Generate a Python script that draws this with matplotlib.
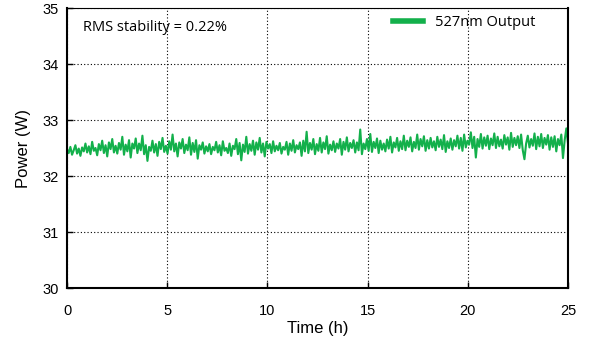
import numpy as np
import matplotlib
matplotlib.use("Agg")
import matplotlib.pyplot as plt

power = [
    32.48, 32.41, 32.52, 32.38, 32.46, 32.55, 32.40, 32.49, 32.36, 32.51,
    32.44, 32.58, 32.42, 32.53, 32.39, 32.61, 32.45, 32.50, 32.37, 32.57,
    32.46, 32.63, 32.41, 32.55, 32.35, 32.60, 32.48, 32.66, 32.42, 32.54,
    32.40, 32.59, 32.47, 32.70, 32.38, 32.56, 32.44, 32.64, 32.33, 32.58,
    32.49, 32.67, 32.41, 32.58, 32.46, 32.72, 32.39, 32.55, 32.27, 32.52,
    32.45, 32.63, 32.42, 32.57, 32.36, 32.61, 32.48, 32.68, 32.43, 32.54,
    32.40, 32.62, 32.47, 32.74, 32.44, 32.58, 32.35, 32.60, 32.49, 32.66,
    32.41, 32.56, 32.46, 32.69, 32.38, 32.59, 32.43, 32.64, 32.31, 32.55,
    32.47, 32.60, 32.40, 32.53, 32.44, 32.57, 32.39, 32.52, 32.46, 32.61,
    32.42, 32.55, 32.37, 32.62, 32.45, 32.50, 32.41, 32.58, 32.36, 32.54,
    32.48, 32.66, 32.39, 32.59, 32.28, 32.56, 32.43, 32.70, 32.40, 32.57,
    32.45, 32.63, 32.38, 32.60, 32.47, 32.68, 32.42, 32.58, 32.35, 32.61,
    32.49, 32.57, 32.41, 32.62, 32.44, 32.54, 32.46, 32.59, 32.40, 32.52,
    32.47, 32.61, 32.38, 32.58, 32.45, 32.64, 32.42, 32.55, 32.48, 32.60,
    32.36, 32.63, 32.44, 32.79, 32.41, 32.59, 32.47, 32.66, 32.39, 32.57,
    32.45, 32.68, 32.42, 32.60, 32.48, 32.71, 32.40, 32.56, 32.46, 32.62,
    32.43, 32.58, 32.49, 32.66, 32.38, 32.61, 32.47, 32.69, 32.44, 32.59,
    32.50, 32.64, 32.42, 32.60, 32.46, 32.83, 32.39, 32.58, 32.48, 32.66,
    32.45, 32.75, 32.43, 32.61, 32.50, 32.67, 32.41, 32.63, 32.47, 32.58,
    32.44, 32.65, 32.49, 32.70, 32.42, 32.60, 32.51, 32.68, 32.45, 32.62,
    32.48, 32.72, 32.46, 32.63, 32.52, 32.69, 32.44, 32.61, 32.50, 32.74,
    32.47, 32.66, 32.53, 32.71, 32.45, 32.64, 32.49, 32.68, 32.51, 32.62,
    32.46, 32.70, 32.52, 32.65, 32.48, 32.73, 32.43, 32.62, 32.50, 32.67,
    32.47, 32.64, 32.53, 32.72, 32.49, 32.68, 32.45, 32.74, 32.51, 32.63,
    32.56, 32.78, 32.50, 32.70, 32.33, 32.66, 32.52, 32.75, 32.49, 32.69,
    32.54, 32.72, 32.48, 32.67, 32.55, 32.76, 32.50, 32.70, 32.53, 32.65,
    32.49, 32.73, 32.56, 32.69, 32.47, 32.77, 32.52, 32.68, 32.55, 32.71,
    32.50, 32.74, 32.46, 32.30, 32.58, 32.72, 32.51, 32.66, 32.54, 32.76,
    32.48, 32.70, 32.53, 32.75, 32.50, 32.68, 32.56, 32.73, 32.47, 32.69,
    32.52, 32.71, 32.44, 32.66, 32.55, 32.74, 32.32, 32.64, 32.85, 32.58,
]
time_h = np.linspace(0, 25, len(power))

x_ticks = [0, 5, 10, 15, 20, 25]
y_ticks = [30, 31, 32, 33, 34, 35]
series_label = "527nm Output"
note = "RMS stability = 0.22%"

fig = plt.figure(figsize=(5.91, 3.45), dpi=100)
ax = fig.add_axes([0.1134, 0.1652, 0.8477, 0.8116])

ax.plot(time_h, power, color="#13b04b", lw=1.5, label=series_label)
ax.set_xlim(0, 25)
ax.set_ylim(30, 35)
ax.set_xticks(x_ticks)
ax.set_yticks(y_ticks)
ax.grid(True, color="black", linestyle=(0, (1, 2)), lw=0.8)
ax.tick_params(direction="in", length=4, width=1, labelsize=10.5)
ax.tick_params(axis="x", pad=11.5)
ax.tick_params(axis="y", pad=6)
for lbl in ax.get_xticklabels() + ax.get_yticklabels():
    lbl.set_family("Liberation Sans")
for s in ["left", "bottom", "right"]:
    ax.spines[s].set_linewidth(1.5)
ax.spines["top"].set_linewidth(0.8)

ax.set_xlabel("Time (h)", fontsize=12, family="Liberation Sans", labelpad=2)
ax.set_ylabel("Power (W)", fontsize=12, family="Liberation Sans", labelpad=8.5)

ax.text(0.032, 0.932, note, transform=ax.transAxes, fontsize=10.5,
        family="Open Sans", va="center", ha="left")
leg = ax.legend(loc="upper right", frameon=False,
                prop={"family": "Open Sans", "size": 10.5},
                handlelength=2.05, handletextpad=0.8,
                borderaxespad=0, borderpad=0,
                bbox_to_anchor=(0.934, 0.974))
for h in leg.get_lines():
    h.set_linewidth(4)

fig.savefig("out.png", dpi=100)
